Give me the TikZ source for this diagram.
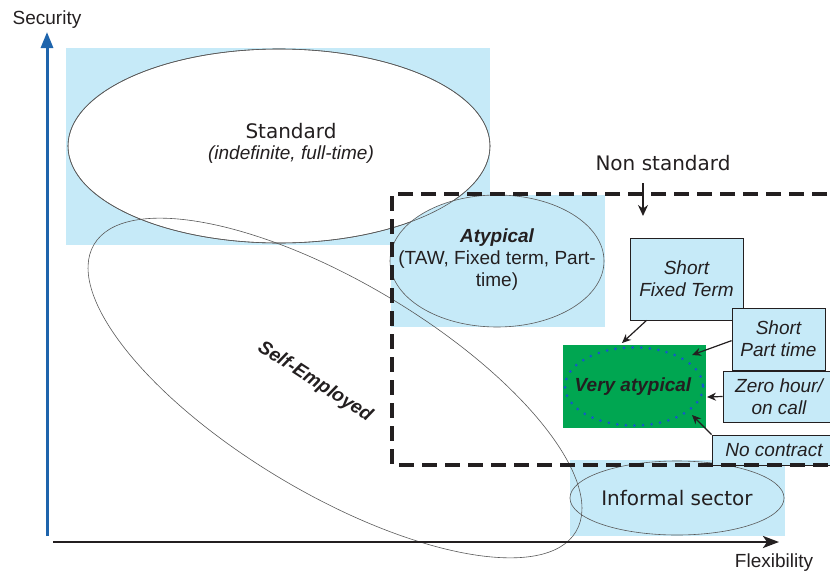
\documentclass[tikz,border=0pt]{standalone}
\usepackage{fontspec}
\setmainfont{Liberation Sans}
\newfontfamily\comicfont{DejaVu Sans}
\usetikzlibrary{shapes.geometric,arrows.meta}
\definecolor{paleblue}{RGB}{198,234,248}
\definecolor{darkgreen}{RGB}{0,166,81}
\definecolor{axisblue}{RGB}{30,100,172}
\definecolor{dotblue}{RGB}{20,90,200}
\definecolor{ink}{RGB}{35,31,32}

\begin{document}
\begin{tikzpicture}[x=1pt,y=-1pt,
        every node/.style={text=ink,font=\fontsize{19}{22}\selectfont,align=center},
        oval/.style={ellipse,draw=gray!70!black,line width=0.6pt,inner sep=0pt},
        typebox/.style={rectangle,draw=ink,line width=0.8pt,fill=paleblue,inner sep=0pt},
        pointer/.style={draw=ink,line width=1.2pt,-{Stealth[length=9pt,width=8pt]}},
        comic/.style={font=\comicfont\fontsize{20}{24}\selectfont}]

        \useasboundingbox (0,0) rectangle (830,573);

        % coloured panels
        \fill[paleblue] (66,48) rectangle (490,245);
        \fill[paleblue] (391,195) rectangle (605,327);
        \fill[paleblue] (570,460) rectangle (785,536);

        \node[oval,fill=white,minimum width=422pt,minimum height=194pt] (std) at (279,146) {};
        \node[oval,fill=paleblue,minimum width=214pt,minimum height=132pt] (atyp) at (497,261) {};
        \draw[gray!70!black,line width=0.6pt] (std.center) ellipse [x radius=211,y radius=97];

        \node[fill=darkgreen,minimum width=143pt,minimum height=83pt,inner sep=0pt] (green) at (634,386.5) {};
        \draw[dotblue,line width=3pt,line cap=round,dash pattern=on 0pt off 8.6pt] (green.center) ellipse [x radius=69,y radius=39];
        \node[font=\bfseries\itshape\fontsize{19}{22}\selectfont] (very) at (633,387) {Very atypical};

        \node[oval,fill=paleblue,minimum width=214pt,minimum height=74pt,comic] (informal) at (677,498) {Informal sector};
        \node[oval,minimum width=561pt,minimum height=211pt,rotate=-30.8] (self) at (335,388) {};

        \node (stdtext) at (291,143) {\comicfont\fontsize{20}{24}\selectfont Standard\\[-1pt]\itshape(indefinite, full-time)};
        \node (atyptext) at (497,260) {\bfseries\itshape Atypical\\(TAW, Fixed term, Part-\\time)};
        \node[rotate=-33,font=\bfseries\itshape\fontsize{19}{22}\selectfont] (selftext) at (315,382) {Self-Employed};

        % boxes round the very atypical core
        \node[typebox,minimum width=113pt,minimum height=82pt] (sft) at (686.5,279) {\itshape Short\\\itshape Fixed Term};
        \node[typebox,minimum width=93pt,minimum height=62pt] (spt) at (778.5,339) {\itshape Short\\\itshape Part time};
        \node[typebox,minimum width=112pt,minimum height=51pt] (zero) at (779,396.5) {\itshape Zero hour/\\\itshape on call};
        \node[typebox,minimum width=124pt,minimum height=30pt] (nocon) at (774,450) {\itshape No contract};

        % non standard frame
        \draw[ink,line width=4pt,dash pattern=on 15pt off 8pt] (850,194) -- (392,194) -- (392,465) -- (850,465);
        \node[comic] (nonstd) at (663,163) {Non standard};
        \coordinate (nstop) at (643,183);
        \coordinate (nstip) at (643,216);
        \draw[ink,line width=1.6pt,-{Stealth[length=11pt,width=10pt]}] (nstop) -- (nstip);

        \coordinate (tipA) at (622,343);
        \coordinate (tipB) at (692,355);
        \coordinate (tipC) at (707,397);
        \coordinate (tipD) at (692,415);
        \draw[pointer] (sft.-134) -- (tipA);
        \draw[pointer] (spt.182) -- (tipB);
        \draw[pointer] (zero.west) -- (tipC);
        \draw[pointer] (nocon.north west) -- (tipD);

        % axes
        \node (security) at (47,20) {Security};
        \node (flex) at (774,563) {Flexibility};
        \coordinate (ybase) at (47,536);
        \coordinate (ytip) at (47,32);
        \coordinate (xbase) at (53,542);
        \coordinate (xtip) at (779,542);
        \draw[axisblue,line width=3pt,-{Triangle[length=16pt,width=12pt]}] (ybase) -- (ytip);
        \draw[ink,line width=2.5pt,-{Stealth[length=16pt,width=12pt,inset=4pt]}] (xbase) -- (xtip);

\end{tikzpicture}
\end{document}
